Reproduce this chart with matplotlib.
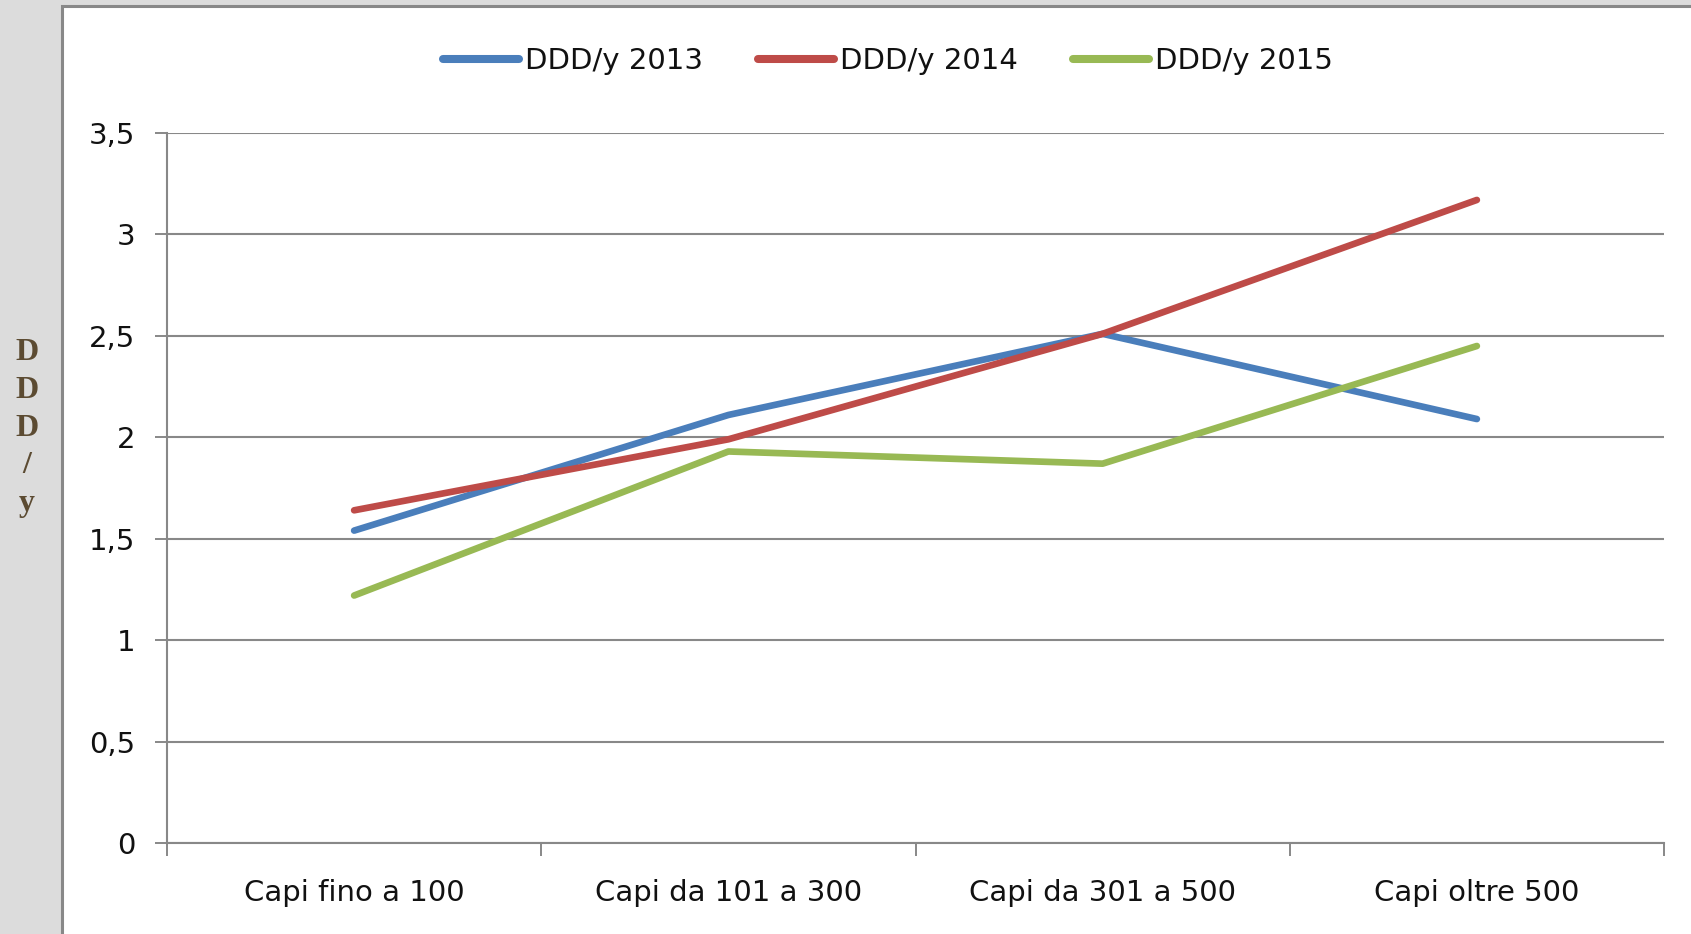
import numpy as np
import matplotlib
matplotlib.use("Agg")
import matplotlib.pyplot as plt
from matplotlib.patches import Rectangle
from matplotlib.ticker import FixedLocator, FuncFormatter

categories = ["Capi fino a 100", "Capi da 101 a 300", "Capi da 301 a 500", "Capi oltre 500"]
ddd_2013 = [1.54, 2.11, 2.51, 2.09]
ddd_2014 = [1.64, 1.99, 2.51, 3.17]
ddd_2015 = [1.22, 1.93, 1.87, 2.45]
series_labels = ["DDD/y 2013", "DDD/y 2014", "DDD/y 2015"]
colors = ["#4a7ebb", "#be4b48", "#98b954"]

grey = "#888888"
txt = "#111111"
fs = 21

fig = plt.figure(figsize=(16.91, 9.34), dpi=100)
fig.patch.set_facecolor("#dcdcdc")

# white chart panel with grey border, drawn behind the axes
panel = Rectangle((62 / 1691, -0.2), 1.2, 0.2 + 1 - 6 / 934, transform=fig.transFigure,
                  facecolor="white", edgecolor=grey, linewidth=2.2, zorder=-1)
fig.patches.append(panel)

ax = fig.add_axes([167 / 1691, 1 - 843 / 934, (1664 - 167) / 1691, (843 - 133) / 934])
ax.set_facecolor("none")

x = np.arange(len(categories))
for vals, lab, col in zip([ddd_2013, ddd_2014, ddd_2015], series_labels, colors):
    ax.plot(x, vals, color=col, lw=4.8, label=lab, solid_capstyle="round",
            solid_joinstyle="round", zorder=3)

ax.set_xlim(-0.5, len(categories) - 0.5)
ax.set_ylim(0, 3.5)
ax.set_yticks(np.arange(0, 3.51, 0.5))
ax.yaxis.set_major_formatter(FuncFormatter(lambda v, p: f"{v:g}".replace(".", ",")))
ax.grid(axis="y", color=grey, lw=1.5, zorder=1)
ax.set_axisbelow(True)

ax.set_xticks(x)
ax.set_xticklabels(categories)
ax.xaxis.set_minor_locator(FixedLocator(np.arange(-0.5, len(categories), 1.0)))
ax.tick_params(axis="x", which="major", length=0, pad=26, labelsize=fs, labelcolor=txt)
ax.tick_params(axis="x", which="minor", length=9, width=1.4, color=grey)
ax.tick_params(axis="y", length=9, width=1.4, color=grey, pad=14, labelsize=fs, labelcolor=txt)

for s in ["top", "right"]:
    ax.spines[s].set_visible(False)
for s in ["left", "bottom"]:
    ax.spines[s].set_color(grey)
    ax.spines[s].set_linewidth(1.5)

leg = fig.legend(loc="center", bbox_to_anchor=(888 / 1691, 1 - 61 / 934), ncol=3,
                 frameon=False, fontsize=fs, handlelength=2.6, handletextpad=0.2,
                 columnspacing=1.9, labelcolor=txt)
for h in leg.legend_handles:
    h.set_linewidth(5.8)
    h.set_solid_capstyle("round")

fig.text(27 / 1691, 1 - 428 / 934, "D\nD\nD\n/\ny", ha="center", va="center",
         family="Liberation Serif", weight="bold", fontsize=23, color="#5c4b32",
         linespacing=1.4)

fig.savefig("out.png", dpi=100)
